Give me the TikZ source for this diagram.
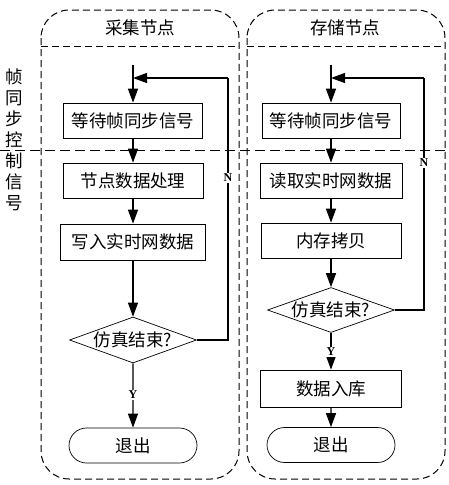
\documentclass[tikz,border=0pt]{standalone}
\usepackage{fontspec}
\setmainfont{Noto Sans CJK SC}
\newfontfamily\latser{Liberation Serif}
\usetikzlibrary{arrows.meta,shapes.geometric,shapes.misc}
\begin{document}
\begin{tikzpicture}[x=1pt,y=-1pt,
  cjk/.style={font=\fontsize{17.5}{21}\selectfont},
  stepbox/.style={draw,line width=0.7pt,cjk,inner sep=0pt,minimum height=35pt},
  decbox/.style={draw,diamond,line width=0.7pt,cjk,inner sep=0pt,aspect=2.76,minimum width=127pt,minimum height=46pt},
  endbox/.style={draw,rounded rectangle,line width=0.7pt,cjk,inner sep=0pt,minimum width=128pt,minimum height=35pt},
  flow/.style={line width=1.2pt,-{Triangle[length=14pt,width=10pt]}},
  plain/.style={line width=1.2pt},
  container/.style={line width=1pt,dash pattern=on 7pt off 4pt},
  sigline/.style={line width=1pt,dash pattern=on 10pt off 5pt},
  lbl/.style={fill=white,inner sep=1.5pt,font=\latser\bfseries\fontsize{12}{14}\selectfont}
]
\useasboundingbox (0,0) rectangle (449,485);

% containers
\draw[container,rounded corners=28pt] (41,10) rectangle (239,479);
\draw[container] (41,46) -- (239,46);
\draw[container,rounded corners=28pt] (247,10) rectangle (445,479);
\draw[container] (247,46) -- (445,46);
\draw[sigline] (0,150) -- (449,150);

\node[cjk] (t1) at (140,28) {采集节点};
\node[cjk] (t2) at (345,28) {存储节点};
\node[cjk,align=center] (sig) at (14,140) {帧\\同\\步\\控\\制\\信\\号};

% left flow
\coordinate (lstart) at (133,65);
\coordinate (ljoin) at (133,78);
\coordinate (lfb) at (228,78);
\node[stepbox,minimum width=139pt] (L1) at (133,120.5) {等待帧同步信号};
\node[stepbox,minimum width=140pt] (L2) at (133,180.5) {节点数据处理};
\node[stepbox,minimum width=145pt,minimum height=36pt] (L3) at (133,242) {写入实时网数据};
\node[decbox] (LD) at (133,340) {仿真结束?};
\node[endbox] (LE) at (133,445.5) {退出};

\draw[flow] (lstart) -- (L1);
\draw[flow] (L1) -- (L2);
\draw[flow] (L2) -- (L3);
\draw[flow] (L3) -- (LD);
\draw[flow] (LD) -- (LE);
\draw[plain] (LD.east) -| (lfb);
\draw[flow] (lfb) -- (ljoin);
\node[lbl] (LN) at (228,178) {N};
\node[lbl] (LY) at (133,395) {Y};

% right flow
\coordinate (rstart) at (331,65);
\coordinate (rjoin) at (331,78);
\coordinate (rfb) at (424,78);
\node[stepbox,minimum width=138pt] (R1) at (331,120.5) {等待帧同步信号};
\node[stepbox,minimum width=142pt] (R2) at (331,180.5) {读取实时网数据};
\node[stepbox,minimum width=140pt] (R3) at (331,240.5) {内存拷贝};
\node[decbox,minimum height=45pt] (RD) at (331,310) {仿真结束?};
\node[stepbox,minimum width=141pt,minimum height=37pt] (R4) at (331,388.5) {数据入库};
\node[endbox] (RE) at (331,445) {退出};

\draw[flow] (rstart) -- (R1);
\draw[flow] (R1) -- (R2);
\draw[flow] (R2) -- (R3);
\draw[flow] (R3) -- (RD);
\draw[flow] (RD) -- (R4);
\draw[flow] (R4) -- (RE);
\draw[plain] (RD.east) -| (rfb);
\draw[flow] (rfb) -- (rjoin);
\node[lbl] (RN) at (424,163) {N};
\node[lbl] (RY) at (331,352) {Y};
\end{tikzpicture}
\end{document}
